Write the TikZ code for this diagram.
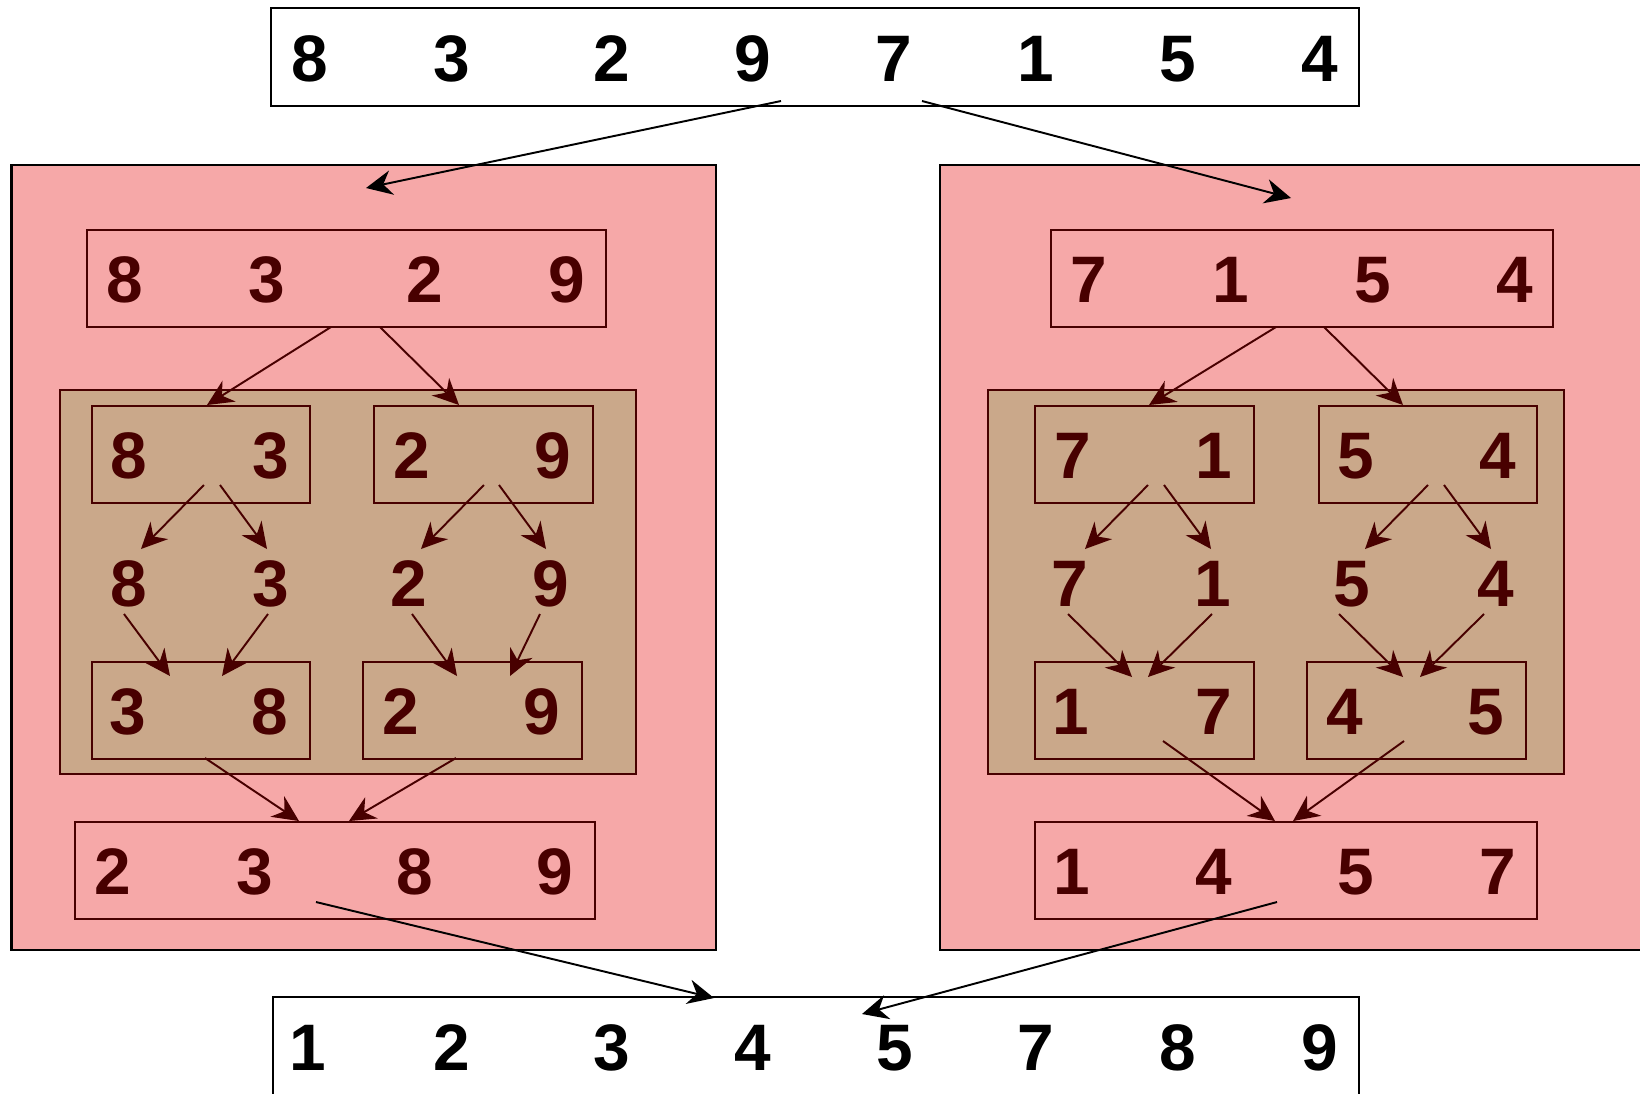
\documentclass[tikz,border=0pt]{standalone}
\usepackage{fontspec}
\setmainfont{Liberation Sans}
\usepackage{xcolor}
\usetikzlibrary{arrows.meta}

\definecolor{panelpink}{RGB}{246,168,168}
\definecolor{mergetan}{RGB}{202,168,138}
\definecolor{inkred}{RGB}{72,0,0}

\begin{document}
\begin{tikzpicture}[
        x=0.01cm, y=-0.01cm,
        panel/.style={draw=black, line width=0.7pt, fill=panelpink},
        mergearea/.style={draw=inkred, line width=0.65pt, fill=mergetan},
        listbox/.style={draw=inkred, line width=0.65pt, inner sep=0pt, minimum height=0.97cm},
        outerbox/.style={draw=black, line width=0.6pt, inner sep=0pt, fill=white, minimum height=0.98cm},
        num/.style={inner sep=0pt, text=inkred, font=\fontsize{18.7}{20}\selectfont\bfseries},
        bignum/.style={num, text=black},
        arr/.style={-{Stealth[length=7.4pt,width=7pt,inset=2.4pt]}, line width=0.55pt, draw=inkred},
        bigarr/.style={arr, draw=black}
    ]
        \useasboundingbox (0,0) rectangle (1640,1093);

        % Background panels
        \draw[panel] (11.5,165) rectangle (716,950);
        \draw[panel] (940,165) rectangle (1660,950);
        \draw[mergearea] (60,390) rectangle (636,774);
        \draw[mergearea] (988,390) rectangle (1564,774);

        % Boxes
        \node[outerbox, minimum width=10.88cm] (input) at (815,57) {};
        \node[outerbox, minimum width=10.86cm] (output) at (816,1046) {};

        \node[listbox, minimum width=5.19cm] (lhalf) at (346.5,278.5) {};
        \node[listbox, minimum width=2.18cm] (lqa) at (201,454.5) {};
        \node[listbox, minimum width=2.19cm] (lqb) at (483.5,454.5) {};
        \node[listbox, minimum width=2.18cm] (lsa) at (201,710.5) {};
        \node[listbox, minimum width=2.19cm] (lsb) at (472.5,710.5) {};
        \node[listbox, minimum width=5.20cm] (lsorted) at (335,870.5) {};

        \node[listbox, minimum width=5.02cm] (rhalf) at (1302,278.5) {};
        \node[listbox, minimum width=2.19cm] (rqa) at (1144.5,454.5) {};
        \node[listbox, minimum width=2.18cm] (rqb) at (1428,454.5) {};
        \node[listbox, minimum width=2.19cm] (rsa) at (1144.5,710.5) {};
        \node[listbox, minimum width=2.19cm] (rsb) at (1416.5,710.5) {};
        \node[listbox, minimum width=5.02cm] (rsorted) at (1286,870.5) {};

        % Numbers
        \foreach \v/\x [count=\i] in {8/310,3/452,2/612,9/753,7/894,1/1036,5/1178,4/1320}
            \node[bignum] (in\i) at (\x,59) {\v};
        \foreach \v/\x [count=\i] in {1/308,2/452,3/612,4/753,5/895,7/1036,8/1178,9/1320}
            \node[bignum] (out\i) at (\x,1048) {\v};

        \foreach \v/\x [count=\i] in {8/125,3/267,2/425,9/567}
            \node[num] (lh\i) at (\x,280) {\v};
        \foreach \v/\x [count=\i] in {8/129,3/271,2/412,9/553}
            \node[num] (lq\i) at (\x,456) {\v};
        \foreach \v/\x [count=\i] in {8/129,3/271,2/409,9/551}
            \node[num] (ls\i) at (\x,584) {\v};
        \foreach \v/\x [count=\i] in {3/128,8/270,2/401,9/542}
            \node[num] (lm\i) at (\x,712) {\v};
        \foreach \v/\x [count=\i] in {2/113,3/255,8/415,9/555}
            \node[num] (lr\i) at (\x,872) {\v};

        \foreach \v/\x [count=\i] in {7/1089,1/1231,5/1373,4/1515}
            \node[num] (rh\i) at (\x,280) {\v};
        \foreach \v/\x [count=\i] in {7/1073,1/1214,5/1356,4/1498}
            \node[num] (rq\i) at (\x,456) {\v};
        \foreach \v/\x [count=\i] in {7/1070,1/1213,5/1352,4/1496}
            \node[num] (rs\i) at (\x,584) {\v};
        \foreach \v/\x [count=\i] in {1/1071,7/1214,4/1345,5/1486}
            \node[num] (rm\i) at (\x,712) {\v};
        \foreach \v/\x [count=\i] in {1/1072,4/1214,5/1356,7/1498}
            \node[num] (rr\i) at (\x,872) {\v};

        % Arrow ends
        \foreach \n/\ax/\ay/\bx/\by in {
            la/331/327/207/405, lb/380/327/459/405,
            lc/204/485/141/549, ld/220/485/267/549, le/484/485/421/549, lf/499/485/546/549,
            lg/124/614/170/676, lh/268/614/222/676, li/412/614/457/676, lj/540/614/510/676,
            lk/205/758/299/821, ll/456/758/349/821,
            ra/1276/327/1149/405, rb/1324/327/1403/405,
            rc/1148/485/1085/549, rd/1164/485/1211/549, re/1428/485/1365/549, rf/1444/485/1491/549,
            rg/1068/614/1132/677, rh/1212/614/1148/677, ri/1339/614/1403/677, rj/1484/614/1420/677,
            rk/1163/741/1275/821, rl/1404/741/1293/821,
            sl/781/101/366/188, sr/922/101/1291/198,
            ml/316/902/714/998, mr/1277/902/862/1014}{
            \coordinate (\n0) at (\ax,\ay);
            \coordinate (\n1) at (\bx,\by);
        }

        % Edges
        \foreach \n in {la,lb,lc,ld,le,lf,lg,lh,li,lj,lk,ll,ra,rb,rc,rd,re,rf,rg,rh,ri,rj,rk,rl}
            \draw[arr] (\n0) -- (\n1);
        \foreach \n in {sl,sr,ml,mr}
            \draw[bigarr] (\n0) -- (\n1);
    \end{tikzpicture}
\end{document}
